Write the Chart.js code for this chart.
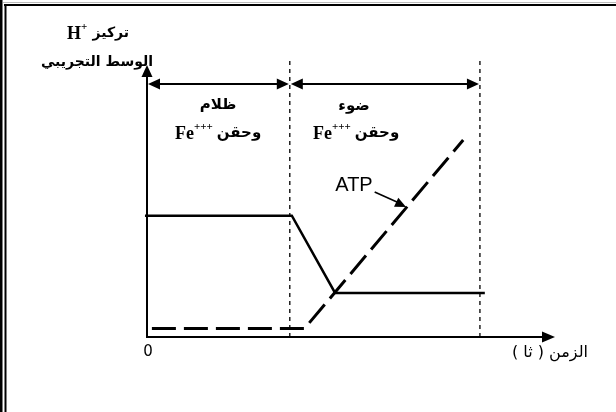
<!DOCTYPE html>
<html><head><meta charset="utf-8">
<script src="https://cdn.jsdelivr.net/npm/chart.js@4"></script>
<style>html,body{margin:0;padding:0;background:#fff}canvas{display:block}</style>
</head><body>
<canvas id="c" width="616" height="412"></canvas>
<script>
// ---- data (arbitrary units) ----
const timeH = [-0.05, 3.55, 4.61, 8.28];
const valuesH = [4.46, 4.46, 1.62, 1.62];
const timeATP = [0.12, 3.86, 7.75];
const valuesATP = [0.31, 0.31, 7.24];
const phaseBounds = [0, 3.5, 8.16];
const phaseTitles = ['ظلام', 'ضوء'];
const phaseSub = 'وحقن';
const ionLabel = 'Fe';
const ionCharge = '+++';
const yTitleTop = 'تركيز';
const yTitleIon = 'H';
const yTitleBottom = 'الوسط التجريبي';
const xTitle = 'الزمن ( ثا )';
const xZeroLabel = '0';
const seriesLabelATP = 'ATP';
const xMax = 10, yMax = 10;

const pts = (xs, ys) => xs.map((x, i) => ({x, y: ys[i]}));

const overlay = {
  id: 'overlay',
  beforeDraw(chart) {
    const c = chart.ctx;
    c.save();
    c.fillStyle = '#fff';
    c.fillRect(0, 0, chart.width, chart.height);
    // frame
    c.fillStyle = '#bbb';
    c.fillRect(3, 2, chart.width, 1);
    c.fillStyle = '#000';
    c.fillRect(4, 4, chart.width, 2);
    c.fillRect(0, 0, 2.5, chart.height);
    c.fillRect(4.5, 4, 2, chart.height);
    c.restore();
  },
  afterDatasetsDraw(chart) {
    const c = chart.ctx;
    const X = v => chart.scales.x.getPixelForValue(v);
    const Y = v => chart.scales.y.getPixelForValue(v);
    const tri = (tx, ty, dx, dy, len, hw) => {
      const n = Math.hypot(dx, dy); dx /= n; dy /= n;
      const bx = tx - dx * len, by = ty - dy * len;
      c.beginPath();
      c.moveTo(tx, ty);
      c.lineTo(bx - dy * hw, by + dx * hw);
      c.lineTo(bx + dy * hw, by - dx * hw);
      c.closePath(); c.fill();
    };
    c.save();
    c.strokeStyle = '#000'; c.fillStyle = '#000';
    // axes
    c.lineWidth = 2;
    c.beginPath();
    c.moveTo(X(0), Y(0)); c.lineTo(X(0), Y(yMax) + 8);
    c.moveTo(X(0) - 1, Y(0)); c.lineTo(X(xMax) - 8, Y(0));
    c.stroke();
    tri(X(0), Y(yMax), 0, -1, 12, 5.5);
    tri(X(xMax), Y(0), 1, 0, 13, 5.5);
    // phase double arrows
    const ay = Y(9.3);
    for (let i = 0; i < phaseBounds.length - 1; i++) {
      const a = X(phaseBounds[i]) + 1, b = X(phaseBounds[i + 1]) - 1;
      c.lineWidth = 2;
      c.beginPath(); c.moveTo(a + 6, ay); c.lineTo(b - 6, ay); c.stroke();
      tri(a, ay, -1, 0, 12, 5.5);
      tri(b, ay, 1, 0, 12, 5.5);
    }
    // ATP pointer
    c.lineWidth = 1.6;
    const tx = X(6.35), ty = Y(4.78);
    c.beginPath(); c.moveTo(X(5.58), Y(5.33)); c.lineTo(tx - 8, ty - 4.5); c.stroke();
    tri(tx, ty, X(6.35) - X(5.58), Y(4.78) - Y(5.33), 11, 5);
    // texts
    c.textBaseline = 'middle';
    const arB = 'bold 14px "DejaVu Sans", sans-serif';
    const arB15 = 'bold 15px "DejaVu Sans", sans-serif';
    const serB = 'bold 18px "Liberation Serif", serif';
    const sup = 'bold 11px "Liberation Serif", serif';
    const ar = (txt, x, y, font, align) => {
      c.save(); c.direction = 'rtl'; c.font = font; c.textAlign = align;
      c.fillText(txt, x, y); c.restore();
    };
    // y-axis title
    ar(yTitleTop, 129, 33, arB, 'right');
    c.font = serB; c.textAlign = 'left';
    c.fillText(yTitleIon, 67, 34);
    c.font = sup; c.fillText('+', 81, 27);
    ar(yTitleBottom, 97, 62, arB, 'center');
    // phase labels
    const ionText = (xFe, y) => {
      c.font = serB; c.textAlign = 'left';
      c.fillText(ionLabel, xFe, y + 1);
      const w = c.measureText(ionLabel).width;
      c.font = sup; c.fillText(ionCharge, xFe + w, y - 6);
      const w2 = c.measureText(ionCharge).width;
      ar(phaseSub, xFe + w + w2 + 4, y, arB15, 'left');
    };
    ar(phaseTitles[0], 218, 105, arB15, 'center');
    ar(phaseTitles[1], 354, 106, arB15, 'center');
    ionText(175, 133);
    ionText(313, 133);
    // ATP label
    c.font = '20px "Liberation Sans", sans-serif'; c.textAlign = 'center';
    c.fillText(seriesLabelATP, 354, 185);
    // x labels
    c.font = '15px "DejaVu Sans", sans-serif';
    c.fillText(xZeroLabel, X(0) + 1, 352);
    ar(xTitle, 588, 353, '16px "DejaVu Sans", sans-serif', 'right');
    c.restore();
  }
};

new Chart(document.getElementById('c'), {
  type: 'line',
  data: {
    datasets: [
      {label: 'H+', data: pts(timeH, valuesH), borderColor: '#000', borderWidth: 2.5, pointRadius: 0, clip: false},
      {label: 'ATP', data: pts(timeATP, valuesATP), borderColor: '#000', borderWidth: 3, borderDash: [24, 8], pointRadius: 0, clip: false},
      {label: 'b1', data: pts([phaseBounds[1], phaseBounds[1]], [0, 10.2]), borderColor: '#000', borderWidth: 1.3, borderDash: [4, 4], pointRadius: 0, clip: false},
      {label: 'b2', data: pts([phaseBounds[2], phaseBounds[2]], [0, 10.2]), borderColor: '#000', borderWidth: 1.3, borderDash: [4, 4], pointRadius: 0, clip: false}
    ]
  },
  options: {
    responsive: false,
    animation: false,
    events: [],
    layout: {padding: {left: 147, right: 61, top: 65, bottom: 75}},
    scales: {
      x: {type: 'linear', min: 0, max: xMax, display: false},
      y: {type: 'linear', min: 0, max: yMax, display: false}
    },
    plugins: {legend: {display: false}, tooltip: {enabled: false}}
  },
  plugins: [overlay]
});
</script>
</body></html>
